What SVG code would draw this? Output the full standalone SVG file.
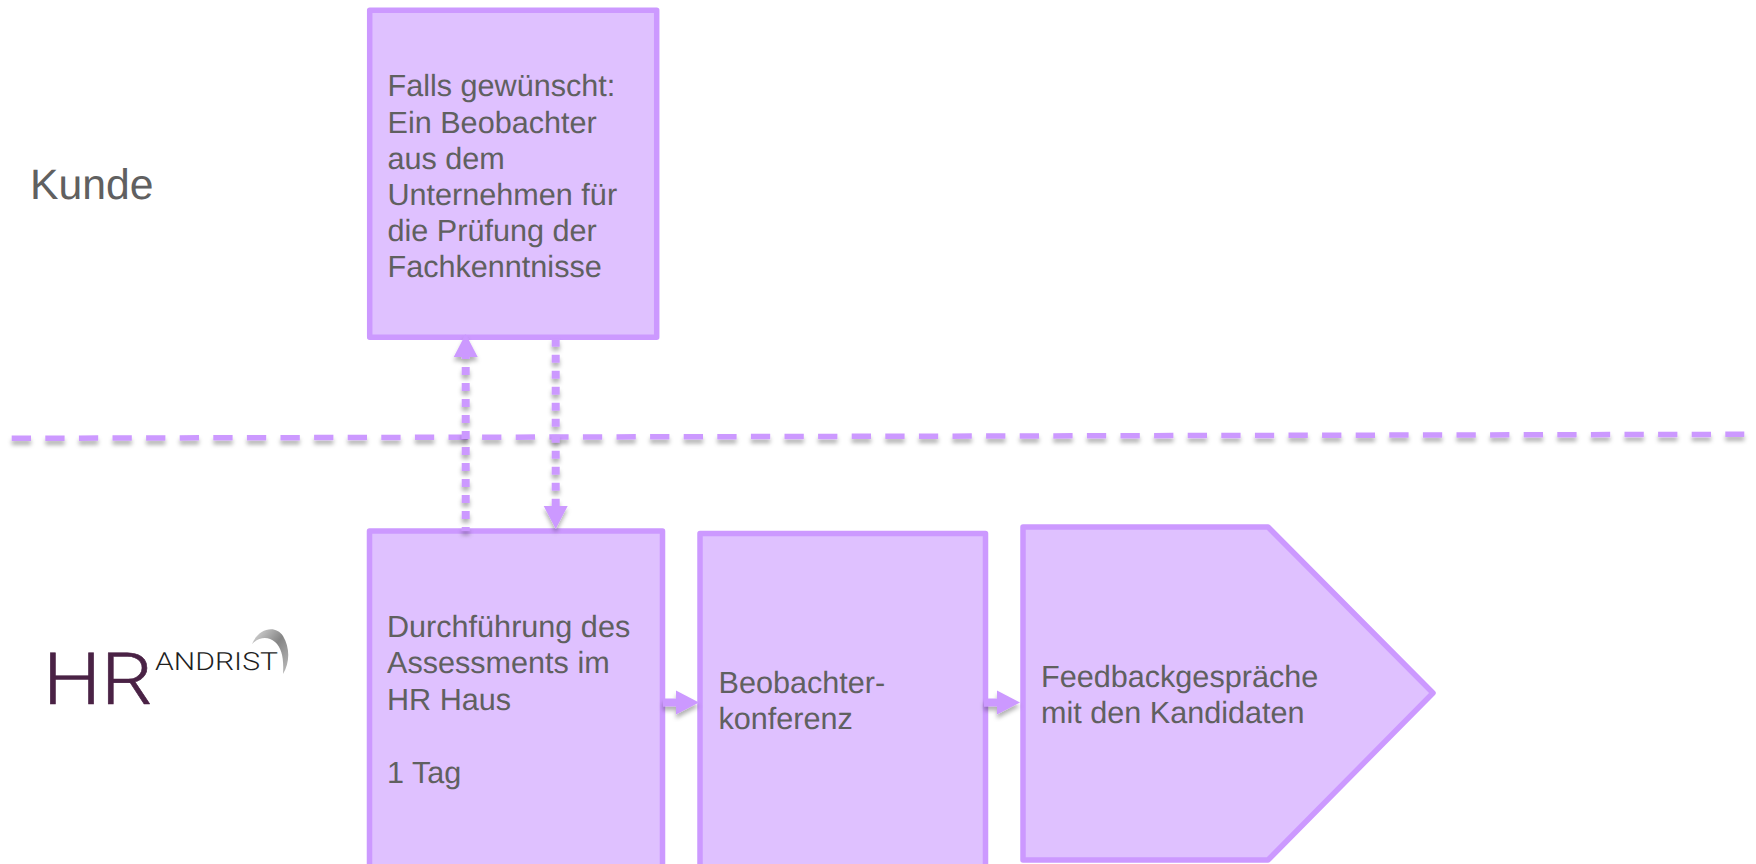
<svg xmlns="http://www.w3.org/2000/svg" width="1756" height="864" viewBox="0 0 1756 864">
  <style>
    text { text-rendering: geometricPrecision; }
    .box { fill: #dfc1ff; stroke: #cc99ff; stroke-width: 5.5; stroke-linejoin: round; }
    .label { font-family: "Liberation Sans", Arial, sans-serif; font-size: 30.6px; fill: #606060; }
    .conn { fill: none; stroke: #cc99ff; stroke-width: 8; marker-end: url(#head); filter: url(#shadow); }
    .dotted { stroke-dasharray: 8 8; }
    .divider { fill: none; stroke: #cc99ff; stroke-width: 5.5; stroke-dasharray: 19.3 14.3; filter: url(#shadow); }
  </style>
  <defs>
    <filter id="shadow" filterUnits="userSpaceOnUse" x="0" y="0" width="1756" height="864">
      <feDropShadow dx="0" dy="4" stdDeviation="2" flood-color="#000000" flood-opacity="0.3"/>
    </filter>
    <marker id="head" markerUnits="userSpaceOnUse" markerWidth="24" markerHeight="26" refX="0" refY="12.5" orient="auto" overflow="visible">
      <path d="M0,0.5 L23,12.5 L0,24.5 Z" fill="#cc99ff"/>
    </marker>
    <linearGradient id="swoosh" x1="0" y1="0" x2="1" y2="1">
      <stop offset="0" stop-color="#dedede"/>
      <stop offset="0.5" stop-color="#858585"/>
      <stop offset="1" stop-color="#bcbcbc"/>
    </linearGradient>
  </defs>
  <rect width="1756" height="864" fill="#ffffff"/>

  <g id="label-kunde">
    <text x="30" y="199" font-family="'Liberation Sans', Arial, sans-serif" font-size="42.7" fill="#606060">Kunde</text>
  </g>

  <g id="logo">
    <path d="M252,644 C258,629 275,624 283,636 C290,648 290,662 283,674 C284,659 282,648 275,642 C268,636 259,637 252,644 Z" fill="url(#swoosh)"/>
    <text x="43" y="703.5" font-family="Roboto, 'Liberation Sans', sans-serif" font-weight="300" font-size="72" fill="#4a2245" stroke="#4a2245" stroke-width="0.6" textLength="110" lengthAdjust="spacingAndGlyphs">HR</text>
    <text x="155" y="670" font-family="Roboto, 'Liberation Sans', sans-serif" font-weight="300" font-size="25" fill="#1f1f1f" textLength="123" lengthAdjust="spacingAndGlyphs">ANDRIST</text>
  </g>

  <g id="node-beobachter-kunde">
    <rect class="box" x="369.7" y="10.3" width="287" height="327"/>
    <text class="label" x="387.5" y="96">Falls gewünscht:</text>
    <text class="label" x="387.5" y="132.5">Ein Beobachter</text>
    <text class="label" x="387.5" y="169">aus dem</text>
    <text class="label" x="387.5" y="205">Unternehmen für</text>
    <text class="label" x="387.5" y="241">die Prüfung der</text>
    <text class="label" x="387.5" y="277">Fachkenntnisse</text>
  </g>

  <g id="node-durchfuehrung">
    <rect class="box" x="369.5" y="531" width="293" height="360"/>
    <text class="label" x="387" y="636.5">Durchführung des</text>
    <text class="label" x="387" y="673">Assessments im</text>
    <text class="label" x="387" y="709.5">HR Haus</text>
    <text class="label" x="387" y="782.5">1 Tag</text>
  </g>

  <g id="node-konferenz">
    <rect class="box" x="700" y="533.5" width="285.5" height="360"/>
    <text class="label" x="718.5" y="692.5">Beobachter-</text>
    <text class="label" x="718.5" y="729">konferenz</text>
  </g>

  <g id="node-feedback">
    <path class="box" d="M1023,527 H1268 L1433,693 L1268,860 H1023 Z"/>
    <text class="label" x="1041" y="686.5">Feedbackgespräche</text>
    <text class="label" x="1041" y="723">mit den Kandidaten</text>
  </g>

  <g id="connectors">
    <path class="divider" d="M11.7,438.3 L1744.3,434.3"/>
    <path class="conn dotted" stroke-dashoffset="4" d="M465.7,531 V357"/>
    <path class="conn dotted" d="M555.7,338.7 V506"/>
    <path class="conn" d="M663,702.5 H676"/>
    <path class="conn" d="M984,702.5 H997"/>
  </g>
</svg>
